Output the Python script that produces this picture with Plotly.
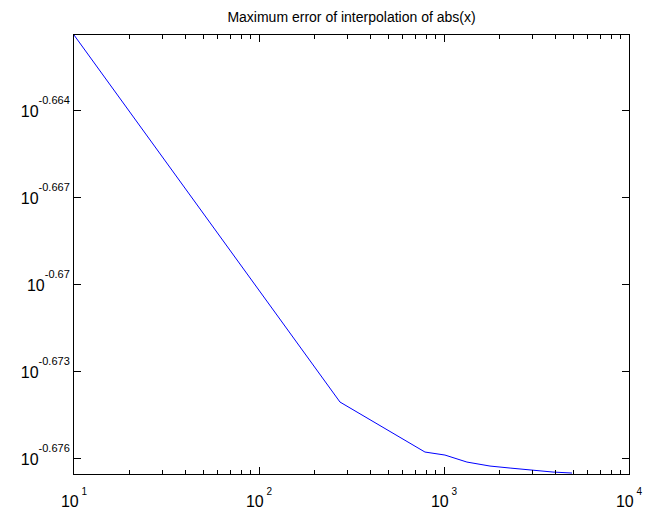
import plotly.graph_objects as go

n_points = [10, 274, 789, 1012, 1330, 1773, 2276, 2918, 3882, 4920]
log_err = [-0.661414, -0.674069, -0.675793, -0.675897, -0.676138, -0.676276,
           -0.676345, -0.676414, -0.676483, -0.676517]
max_err = [10 ** v for v in log_err]

x_label_keys = ["10", "100", "1000", "10k"]
x_exponents = ["1", "2", "3", "4"]
y_tick_exp = [-0.664, -0.667, -0.670, -0.673, -0.676]
y_exp_text = ["-0.664", "-0.667", "-0.67", "-0.673", "-0.676"]


def pow_label(base_shift, exp_text, exp_shift, exp_size, gap=""):
    return ("<span style='baseline-shift:%dpx'>10</span>"
            "<span style='font-size:%dpx;baseline-shift:%dpx'>%s%s</span>"
            % (base_shift, exp_size, exp_shift, gap, exp_text))


x_alias = {k: pow_label(-13, e, -1, 10, "&nbsp;") for k, e in zip(x_label_keys, x_exponents)}
y_tick_text = [pow_label(-1, e, 12, 11) for e in y_exp_text]

fig = go.Figure()
fig.add_trace(go.Scatter(x=n_points, y=max_err, mode="lines",
                         line=dict(color="#0000ff", width=1)))

# page body has an 8px margin; shift the figure frame to compensate
fig.update_layout(
    width=652, height=511,
    margin=dict(l=66, r=31, t=27, b=45, autoexpand=False),
    paper_bgcolor="white", plot_bgcolor="white",
    showlegend=False,
    font=dict(family="Liberation Sans, Arial, sans-serif", color="black", size=16),
    title=dict(text="Maximum error of interpolation of abs(x)", x=0.5,
               xanchor="center", xref="paper", y=1 - 9 / 511, yanchor="middle",
               font=dict(size=14)),
    xaxis=dict(type="log", range=[1, 4], tickmode="linear", tick0=0, dtick=1,
               labelalias=x_alias, separatethousands=False, automargin=False,
               ticks="inside", ticklen=7, tickcolor="black",
               showline=True, linecolor="black", linewidth=1, mirror="allticks",
               showgrid=False, zeroline=False,
               minor=dict(dtick="D1", ticks="inside", ticklen=4, tickcolor="black",
                          showgrid=False)),
    yaxis=dict(type="log", range=[-0.67655, -0.661414], automargin=False,
               tickmode="array", tickvals=[10 ** v for v in y_tick_exp],
               ticktext=y_tick_text, ticks="inside", ticklen=7, tickcolor="black",
               showline=True, linecolor="black", linewidth=1, mirror="allticks",
               showgrid=False, zeroline=False),
)

fig.write_html("out.html")
